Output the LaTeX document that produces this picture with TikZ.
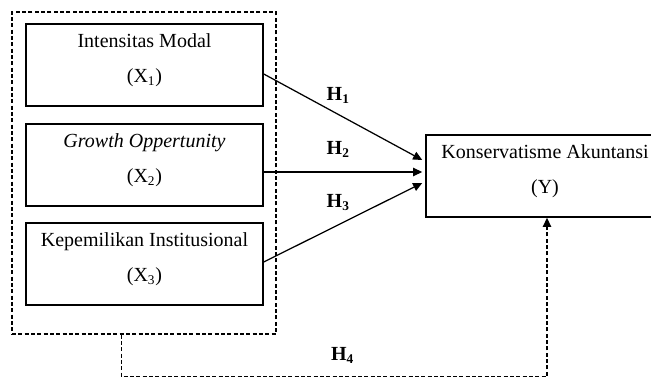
\documentclass[tikz,border=0pt]{standalone}
\usepackage{fontspec}
\setmainfont{Liberation Serif}
\usetikzlibrary{arrows.meta,calc}
\newcommand{\lowpad}{\rule[-8pt]{0pt}{8pt}}
\begin{document}
\begin{tikzpicture}[x=0.6pt,y=-0.6pt,font=\fontsize{12}{14}\selectfont,
  varbox/.style={draw, line width=0.9pt, minimum width=142.2pt, minimum height=49.2pt, align=center, inner sep=0pt},
  hyp/.style={font=\fontsize{12}{14}\selectfont\bfseries},
  arr/.style={line width=0.75pt, -{Triangle[length=5.5pt,width=5pt]}},
  dsh/.style={line width=0.8pt, dash pattern=on 2.4pt off 1.4pt}]
\useasboundingbox (0,0) rectangle (651,378);
\node[dsh, draw, minimum width=158.4pt, minimum height=193.2pt, inner sep=0pt] (grp) at (144,173) {};
\node[varbox] (x1) at (144.5,65) {Intensitas Modal\\[7pt](X\textsubscript{1})\lowpad};
\node[varbox] (x2) at (144.5,165) {\textit{Growth Oppertunity}\\[7pt](X\textsubscript{2})\lowpad};
\node[varbox] (x3) at (144.5,264) {Kepemilikan Institusional\\[7pt](X\textsubscript{3})\lowpad};
\node[varbox, minimum width=142.8pt] (y) at (545,176) {Konservatisme Akuntansi\\[7pt](Y)\lowpad};
% hipotesis
\draw[arr] ($(x1.east)+(0,9)$) -- node[hyp, pos=0.47, above=3pt] (h1) {H\textsubscript{1}} ($(y.west)+(-3,-16)$);
\draw[arr] ($(x2.east)+(0,7)$) -- node[hyp, pos=0.47, above=5pt] (h2) {H\textsubscript{2}} ($(y.west)+(-3,-4)$);
\draw[arr] ($(x3.east)+(0,-2)$) -- node[hyp, pos=0.47, above=5pt] (h3) {H\textsubscript{3}} ($(y.west)+(-3,7)$);
\draw[dsh, -{Triangle[length=5.5pt,width=5pt]}] ($(grp.south west)+(110,0)$) -- ++(0,42) -| node[hyp, pos=0.26, above=4pt] (h4) {H\textsubscript{4}} ($(y.south)+(2,0)$);
\end{tikzpicture}
\end{document}
